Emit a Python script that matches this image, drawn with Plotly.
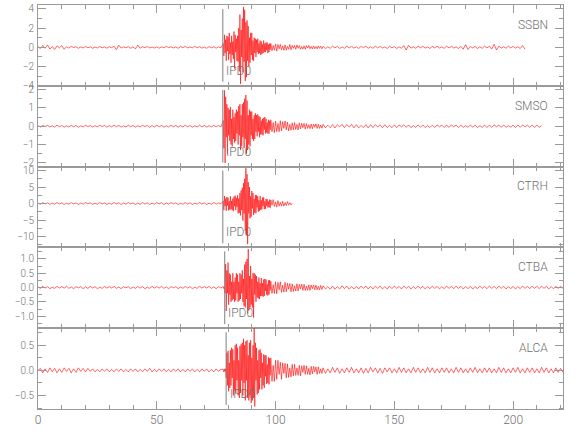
import numpy as np
import plotly.graph_objects as go
from plotly.subplots import make_subplots

# ---------------- data ----------------
stations = ["SSBN", "SMSO", "CTRH", "CTBA", "ALCA"]
picks = [77.8, 77.8, 77.8, 78.6, 79.2]
pick_label = "IPD0"
# sampling of the hand-read segments: pre-event, main phase, coda, tail
seg_start = [0, 78, 98, 120]
seg_step = [1.0, 0.25, 0.5, 1.0]
y_ranges = [[-4.0, 4.4], [-2.2, 2.2], [-13.3, 11.2], [-1.42, 1.40], [-0.77, 0.84]]
y_dtick = [2, 1, 5, 0.5, 0.5]
y_minor = [1, 0.5, 2.5, 0.25, 0.25]
y_format = ["d", "d", "d", ".1f", ".1f"]
x_range = [0, 221]
x_ticks = [0, 50, 100, 150, 200]

ssbn_pre = [0.05, -0.12, 0.2, -0.1, 0.25, -0.18, 0.08, -0.22, 0.15, -0.05,
            0.18, -0.2, 0.06, -0.08, 0.1, -0.03, 0.06, -0.1, 0.04, -0.06,
            0.09, -0.04, 0.05, -0.1, 0.03, -0.07, 0.08, -0.05, 0.04, -0.09,
            0.06, -0.03, 0.12, -0.25, 0.22, -0.08, 0.05, -0.04, 0.07, -0.1,
            0.04, -0.16, 0.24, -0.1, 0.06, -0.03, 0.08, -0.06, 0.03, -0.07,
            0.05, -0.09, 0.04, -0.05, 0.1, -0.03, 0.06, -0.07, 0.04, -0.1,
            0.07, -0.03, 0.09, -0.06, 0.04, -0.05, 0.1, -0.04, 0.06, -0.08,
            0.03, -0.1, 0.07, -0.04, 0.06, -0.09, 0.05, -0.06]
ssbn_main = [0.4, -0.9, 1.3, -0.6, 0.8, -1.4, 1.2, -0.4,
             1.1, -1.3, 1.5, -0.7, 0.5, -1.6, 1.2, -0.8,
             0.6, -1.2, 1.65, -2.2, 1.3, -0.5, 0.9, -1.4,
             1.2, -1.5, 2.0, -2.5, 3.4, -3.8, 1.8, -1.0,
             3.0, -2.6, 4.2, -1.5, 3.9, -3.5, 2.6, -3.1,
             2.8, -1.4, 2.2, -2.0, 1.0, -1.6, 1.5, -0.8,
             1.5, -1.3, 0.7, -1.4, 1.0, -0.6, 0.9, -1.0,
             0.8, -0.5, 0.9, -0.7, 0.4, -0.6, 0.7, -0.8,
             0.6, -0.7, 0.3, -0.6, 0.7, -0.5, 0.4, -0.5,
             0.5, -0.3, 0.5, -0.6, 0.3, -0.5, 0.4, -0.25]
ssbn_coda = [0.4, -0.35, 0.2, -0.3, 0.35, -0.4, 0.3, -0.15, 0.3, -0.25,
             0.15, -0.3, 0.25, -0.3, 0.1, -0.2, 0.3, -0.25, 0.2, -0.1,
             0.2, -0.2, 0.25, -0.1, 0.18, -0.2, 0.08, -0.18, 0.15, -0.2,
             0.18, -0.08, 0.2, -0.15, 0.1, -0.18, 0.15, -0.15, 0.08, -0.15,
             0.15, -0.1, 0.12, -0.15]
ssbn_tail = [0.1, -0.12, 0.05, -0.1, 0.12, -0.06, 0.1, -0.12, 0.04, -0.1,
             0.12, -0.06, 0.1, -0.08, 0.05, -0.12, 0.1, -0.04, 0.12, -0.1,
             0.06, -0.1, 0.12, -0.05, 0.1, -0.08, 0.04, -0.12, 0.1, -0.06,
             0.08, -0.12, 0.05, -0.1, 0.18, -0.28, 0.22, -0.08, 0.06, -0.1,
             0.12, -0.05, 0.1, -0.08, 0.04, -0.12, 0.1, -0.06, 0.12, -0.08,
             0.05, -0.1, 0.12, -0.06, 0.1, -0.08, 0.05, -0.12, 0.1, -0.2,
             0.28, -0.22, 0.08, -0.06, 0.1, -0.12, 0.05, -0.1, 0.12, -0.06,
             0.1, -0.18, 0.32, -0.28, 0.12, -0.08, 0.05, -0.1, 0.12, -0.06,
             0.1, -0.08, 0.05, -0.12, 0.18, -0.18]

smso_pre = [0.03, -0.05, 0.04, -0.02, 0.05, -0.04, 0.02, -0.05, 0.06, -0.03,
            0.04, -0.05, 0.02, -0.04, 0.05, -0.03, 0.04, -0.06, 0.02, -0.04,
            0.05, -0.02, 0.04, -0.05, 0.03, -0.04, 0.05, -0.02, 0.04, -0.05,
            0.03, -0.04, 0.06, -0.03, 0.04, -0.05, 0.02, -0.04, 0.05, -0.03,
            0.04, -0.05, 0.03, -0.04, 0.05, -0.02, 0.04, -0.06, 0.03, -0.04,
            0.05, -0.03, 0.04, -0.05, 0.02, -0.04, 0.05, -0.03, 0.04, -0.05,
            0.03, -0.04, 0.06, -0.03, 0.04, -0.05, 0.02, -0.04, 0.05, -0.03,
            0.04, -0.05, 0.03, -0.04, 0.05, -0.03, 0.04, -0.03]
smso_main = [0.3, -1.2, 1.95, -2.0, 1.6, -0.6, 1.2, -1.5,
             1.0, -0.5, 0.9, -0.8, 1.05, -1.0, 0.4, -1.1,
             0.9, -0.7, 0.5, -0.9, 0.7, -0.8, 0.9, -0.4,
             0.8, -1.0, 1.1, -0.5, 1.2, -1.3, 0.6, -1.1,
             1.2, -0.6, 1.3, -1.2, 1.5, -0.7, 1.7, -1.5,
             1.4, -1.3, 0.6, -1.0, 0.9, -1.1, 0.8, -0.5,
             0.8, -0.7, 0.4, -0.8, 0.6, -0.7, 0.7, -0.3,
             0.6, -0.55, 0.65, -0.3, 0.55, -0.6, 0.5, -0.45,
             0.3, -0.45, 0.4, -0.5, 0.45, -0.2, 0.5, -0.4,
             0.4, -0.35, 0.2, -0.4, 0.35, -0.4, 0.3, -0.2]
smso_coda = [0.35, -0.3, 0.2, -0.35, 0.28, -0.3, 0.15, -0.3, 0.3, -0.25,
             0.25, -0.12, 0.28, -0.2, 0.22, -0.25, 0.1, -0.22, 0.18, -0.2,
             0.2, -0.18, 0.1, -0.2, 0.18, -0.15, 0.16, -0.08, 0.15, -0.16,
             0.14, -0.12, 0.08, -0.13, 0.12, -0.14, 0.12, -0.06, 0.13, -0.12,
             0.11, -0.12, 0.06, -0.11]
smso_tail = [0.1, -0.09, 0.05, -0.08, 0.09, -0.1, 0.08, -0.04, 0.1, -0.08,
             0.09, -0.05, 0.1, -0.09, 0.08, -0.09, 0.04, -0.08, 0.08, -0.09,
             0.08, -0.07, 0.09, -0.04, 0.07, -0.08, 0.08, -0.07, 0.04, -0.08,
             0.07, -0.08, 0.07, -0.04, 0.08, -0.06, 0.07, -0.08, 0.03, -0.06,
             0.07, -0.06, 0.07, -0.07, 0.03, -0.07, 0.06, -0.07, 0.07, -0.03,
             0.06, -0.07, 0.06, -0.06, 0.07, -0.03, 0.06, -0.07, 0.06, -0.06,
             0.03, -0.06, 0.07, -0.06, 0.06, -0.07, 0.03, -0.06, 0.06, -0.07,
             0.06, -0.06, 0.07, -0.03, 0.06, -0.06, 0.07, -0.06, 0.03, -0.06,
             0.06, -0.07, 0.06, -0.06, 0.07, -0.03, 0.06, -0.06, 0.06, -0.07,
             0.06, -0.06, 0.03]

ctrh_pre = [0.1, -0.2, 0.25, -0.1, 0.2, -0.25, 0.1, -0.2, 0.3, -0.15,
            0.2, -0.3, 0.1, -0.2, 0.25, -0.1, 0.2, -0.3, 0.15, -0.2,
            0.3, -0.1, 0.2, -0.25, 0.1, -0.2, 0.3, -0.15, 0.2, -0.25,
            0.1, -0.2, 0.3, -0.1, 0.25, -0.3, 0.15, -0.2, 0.3, -0.1,
            0.2, -0.3, 0.1, -0.25, 0.3, -0.15, 0.2, -0.3, 0.1, -0.2,
            0.3, -0.1, 0.25, -0.3, 0.15, -0.2, 0.3, -0.1, 0.2, -0.3,
            0.1, -0.25, 0.3, -0.15, 0.2, -0.3, 0.1, -0.2, 0.3, -0.15,
            0.2, -0.3, 0.1, -0.2, 0.3, -0.15, 0.2, -0.1]
ctrh_main = [0.8, -2.0, 2.3, -0.8, 1.5, -2.2, 2.0, -0.6,
             1.8, -2.1, 0.7, -1.9, 2.2, -1.7, 0.8, -2.0,
             1.5, -2.3, 2.1, -0.8, 2.4, -2.0, 1.7, -1.0,
             2.5, -3.0, 1.5, -2.8, 3.2, -3.6, 4.0, -2.0,
             4.8, -5.2, 6.2, -3.0, 7.5, -8.3, 10.7, -9.5,
             8.9, -12.3, 6.5, -3.0, 5.0, -4.5, 2.2, -4.0,
             3.8, -1.5, 3.2, -3.5, 1.4, -2.8, 2.6, -3.0,
             2.5, -1.2, 2.2, -2.5, 1.0, -2.2, 2.3, -1.9,
             1.0, -1.8, 1.8, -0.8, 1.9, -1.7, 0.7, -1.6,
             1.4, -0.7, 1.3, -1.2, 0.6, -1.1, 1.2, -1.3]
ctrh_coda = [1.1, -0.5, 1.2, -0.9, 0.5, -1.1, 0.9, -0.8, 0.4, -0.8,
             0.7, -0.8, 0.3, -0.6, 0.6, -0.5, 0.3, -0.4, 0.1]
ctrh_tail = []

ctba_pre = [0.02, -0.03, 0.04, -0.02, 0.03, -0.04, 0.01, -0.03, 0.04, -0.02,
            0.03, -0.02, 0.04, -0.03, 0.02, -0.04, 0.03, -0.01, 0.03, -0.04,
            0.02, -0.03, 0.04, -0.02, 0.03, -0.04, 0.01, -0.03, 0.04, -0.02,
            0.03, -0.02, 0.04, -0.03, 0.02, -0.04, 0.03, -0.01, 0.03, -0.04,
            0.02, -0.03, 0.04, -0.02, 0.03, -0.04, 0.01, -0.03, 0.04, -0.02,
            0.03, -0.02, 0.04, -0.03, 0.02, -0.04, 0.03, -0.01, 0.03, -0.04,
            0.02, -0.03, 0.04, -0.02, 0.03, -0.04, 0.01, -0.03, 0.04, -0.02,
            0.03, -0.02, 0.04, -0.03, 0.02, -0.04, 0.03, -0.02]
ctba_main = [0.03, -0.04, 0.03, -0.2, 0.82, -0.82, 0.6, -0.2,
             0.87, -0.6, 0.5, -0.25, 0.45, -0.5, 0.2, -0.45,
             0.5, -0.4, 0.2, -0.5, 0.35, -0.45, 0.5, -0.2,
             0.45, -0.5, 0.2, -0.45, 0.5, -0.4, 0.45, -0.2,
             0.6, -0.5, 0.3, -0.65, 0.8, -0.7, 0.9, -0.4,
             1.0, -0.9, 1.34, -0.8, 0.4, -0.7, 0.75, -0.6,
             0.3, -0.7, 0.5, -1.05, 0.5, -0.25, 0.45, -0.5,
             0.4, -0.35, 0.2, -0.38, 0.35, -0.4, 0.15, -0.3,
             0.33, -0.3, 0.15, -0.32, 0.28, -0.3, 0.3, -0.12,
             0.28, -0.25, 0.12, -0.28, 0.25, -0.24, 0.26, -0.1]
ctba_coda = [0.22, -0.2, 0.1, -0.21, 0.2, -0.22, 0.18, -0.08, 0.2, -0.17,
             0.08, -0.16, 0.18, -0.15, 0.15, -0.06, 0.14, -0.15, 0.13, -0.14,
             0.06, -0.12, 0.13, -0.12, 0.11, -0.05, 0.12, -0.1, 0.11, -0.1,
             0.05, -0.1, 0.09, -0.1, 0.09, -0.04, 0.09, -0.08, 0.08, -0.08,
             0.04, -0.08, 0.07, -0.07]
ctba_tail = [0.06, -0.05, 0.03, -0.06, 0.05, -0.06, 0.03, -0.05, 0.06, -0.04,
             0.05, -0.06, 0.03, -0.05, 0.04, -0.05, 0.05, -0.03, 0.05, -0.05,
             0.04, -0.05, 0.05, -0.03, 0.05, -0.05, 0.03, -0.05, 0.05, -0.04,
             0.05, -0.03, 0.04, -0.05, 0.05, -0.03, 0.04, -0.05, 0.03, -0.04,
             0.05, -0.03, 0.04, -0.05, 0.03, -0.04, 0.05, -0.03, 0.04, -0.05,
             0.03, -0.04, 0.05, -0.03, 0.04, -0.04, 0.05, -0.03, 0.04, -0.05,
             0.03, -0.04, 0.04, -0.05, 0.03, -0.04, 0.05, -0.03, 0.04, -0.04,
             0.05, -0.03, 0.04, -0.04, 0.05, -0.03, 0.04, -0.05, 0.03, -0.04,
             0.04, -0.05, 0.03, -0.04, 0.05, -0.03, 0.04, -0.04, 0.05, -0.03,
             0.04, -0.04, 0.05, -0.03, 0.04, -0.05, 0.03, -0.04, 0.04, -0.03,
             0.04, -0.03]

alca_pre = [0.0, 0.04, -0.05, 0.03, -0.04, 0.05, -0.03, 0.04, -0.05, 0.03,
            -0.04, 0.05, -0.02, 0.04, -0.05, 0.03, -0.04, 0.05, -0.02, 0.04,
            -0.03, 0.04, -0.02, 0.03, -0.03, 0.02, -0.03, 0.03, -0.02, 0.03,
            -0.03, 0.02, -0.03, 0.03, -0.02, 0.03, -0.03, 0.02, -0.03, 0.03,
            -0.02, 0.03, -0.03, 0.02, -0.03, 0.03, -0.02, 0.04, -0.03, 0.02,
            -0.03, 0.03, -0.02, 0.03, -0.03, 0.02, -0.03, 0.03, -0.02, 0.03,
            -0.03, 0.02, -0.03, 0.03, -0.02, 0.03, -0.03, 0.02, -0.03, 0.03,
            -0.02, 0.03, -0.03, 0.02, -0.03, 0.03, -0.02, 0.02]
alca_main = [0.02, -0.03, 0.03, -0.02, 0.03, -0.15, 0.35, -0.3,
             0.39, -0.42, 0.15, -0.35, 0.4, -0.3, 0.45, -0.15,
             0.42, -0.5, 0.2, -0.4, 0.5, -0.45, 0.53, -0.2,
             0.45, -0.5, 0.2, -0.55, 0.48, -0.45, 0.52, -0.2,
             0.55, -0.5, 0.63, -0.25, 0.5, -0.6, 0.58, -0.2,
             0.6, -0.55, 0.3, -0.6, 0.55, -0.5, 0.6, -0.65,
             0.25, -0.6, 0.5, -0.55, 0.86, -0.72, 0.55, -0.2,
             0.45, -0.48, 0.2, -0.45, 0.4, -0.38, 0.42, -0.15,
             0.35, -0.38, 0.15, -0.3, 0.32, -0.35, 0.3, -0.12,
             0.3, -0.27, 0.12, -0.25, 0.26, -0.28, 0.24, -0.1]
alca_coda = [0.25, -0.22, 0.1, -0.22, 0.2, -0.18, 0.2, -0.08, 0.16, -0.18,
             0.15, -0.06, 0.14, -0.15, 0.13, -0.14, 0.05, -0.13, 0.12, -0.11,
             0.12, -0.1, 0.05, -0.1, 0.1, -0.11, 0.09, -0.04, 0.1, -0.08,
             0.09, -0.08, 0.04, -0.09, 0.08, -0.07, 0.08, -0.03, 0.07, -0.08,
             0.07, -0.06, 0.03, -0.06]
alca_tail = [0.05, -0.06, 0.03, -0.05, 0.06, -0.04, 0.05, -0.06, 0.03, -0.05,
             0.05, -0.04, 0.06, -0.05, 0.03, -0.05, 0.05, -0.06, 0.04, -0.05,
             0.06, -0.03, 0.05, -0.05, 0.04, -0.06, 0.05, -0.03, 0.05, -0.05,
             0.03, -0.05, 0.06, -0.04, 0.05, -0.05, 0.03, -0.05, 0.06, -0.04,
             0.05, -0.05, 0.03, -0.05, 0.06, -0.04, 0.05, -0.05, 0.03, -0.05,
             0.05, -0.04, 0.05, -0.05, 0.03, -0.05, 0.06, -0.04, 0.05, -0.05,
             0.03, -0.05, 0.05, -0.04, 0.06, -0.05, 0.03, -0.05, 0.05, -0.04,
             0.05, -0.05, 0.03, -0.05, 0.06, -0.04, 0.05, -0.05, 0.03, -0.05,
             0.05, -0.04, 0.06, -0.05, 0.03, -0.05, 0.05, -0.04, 0.05, -0.05,
             0.03, -0.05, 0.06, -0.04, 0.05, -0.05, 0.03, -0.05, 0.05, -0.04,
             0.04, -0.04]

traces = {
    "SSBN": [ssbn_pre, ssbn_main, ssbn_coda, ssbn_tail],
    "SMSO": [smso_pre, smso_main, smso_coda, smso_tail],
    "CTRH": [ctrh_pre, ctrh_main, ctrh_coda, ctrh_tail],
    "CTBA": [ctba_pre, ctba_main, ctba_coda, ctba_tail],
    "ALCA": [alca_pre, alca_main, alca_coda, alca_tail],
}

# ---------------- figure ----------------
FONT = "Roboto, Liberation Sans, sans-serif"
AXC = "#9a9a9a"
TXT = "#707070"
RED = "#ff0000"

fig = make_subplots(rows=5, cols=1, shared_xaxes=True, vertical_spacing=0)

for i, name in enumerate(stations):
    ts, vs = [], []
    for seg, start, step in zip(traces[name], seg_start, seg_step):
        ts.append(start + step * np.arange(len(seg)))
        vs.append(np.array(seg, dtype=float))
    t = np.concatenate(ts)
    v = np.concatenate(vs)
    fig.add_trace(go.Scatter(x=t, y=v, mode="lines",
                             line=dict(color=RED, width=0.6),
                             hoverinfo="skip", showlegend=False),
                  row=i + 1, col=1)
    xr = "x" if i == 0 else f"x{i + 1}"
    yr = "y" if i == 0 else f"y{i + 1}"
    fig.add_shape(type="line", x0=picks[i], x1=picks[i], y0=0.05, y1=0.95,
                  xref=xr, yref=f"{yr} domain",
                  line=dict(color="#808080", width=1))
    fig.add_annotation(x=picks[i] + 0.6, y=0.185, xref=xr, yref=f"{yr} domain",
                       text=pick_label, showarrow=False, xanchor="left",
                       yanchor="middle",
                       font=dict(family=FONT, size=12, color=TXT, weight=300))
    fig.add_annotation(x=0.976, y=0.755, xref=f"{xr} domain", yref=f"{yr} domain",
                       text=name, showarrow=False, xanchor="right",
                       yanchor="middle",
                       font=dict(family=FONT, size=12, color=TXT, weight=300))
    fig.update_yaxes(range=y_ranges[i], dtick=y_dtick[i], tick0=0,
                     tickformat=y_format[i],
                     minor=dict(dtick=y_minor[i], tick0=0, ticks="inside",
                                ticklen=4, tickcolor=AXC, showgrid=False),
                     row=i + 1, col=1)

fig.update_xaxes(range=x_range, tickvals=x_ticks, ticks="inside", ticklen=8,
                 tickcolor=AXC, showline=True, linecolor=AXC, linewidth=1,
                 mirror="ticks", showgrid=False, zeroline=False, automargin=False,
                 minor=dict(dtick=10, tick0=0, ticks="inside", ticklen=4,
                            tickcolor=AXC, showgrid=False),
                 tickfont=dict(family=FONT, size=12, color=TXT, weight=300))
fig.update_yaxes(ticks="inside", ticklen=8, tickcolor=AXC, showline=True,
                 linecolor=AXC, linewidth=1, mirror="ticks", showgrid=False,
                 zeroline=False, automargin=False,
                 tickfont=dict(family=FONT, size=10, color=TXT, weight=300),
                 ticklabelstandoff=1)

fig.update_layout(width=580, height=440,
                  margin=dict(l=38, r=17, t=5, b=31),
                  paper_bgcolor="white", plot_bgcolor="white",
                  showlegend=False, font=dict(family=FONT, color=TXT))

fig.write_html("out.html",
               config={"displayModeBar": False},
               post_script="document.body.style.margin='0';"
                           "document.body.style.overflow='hidden';")
